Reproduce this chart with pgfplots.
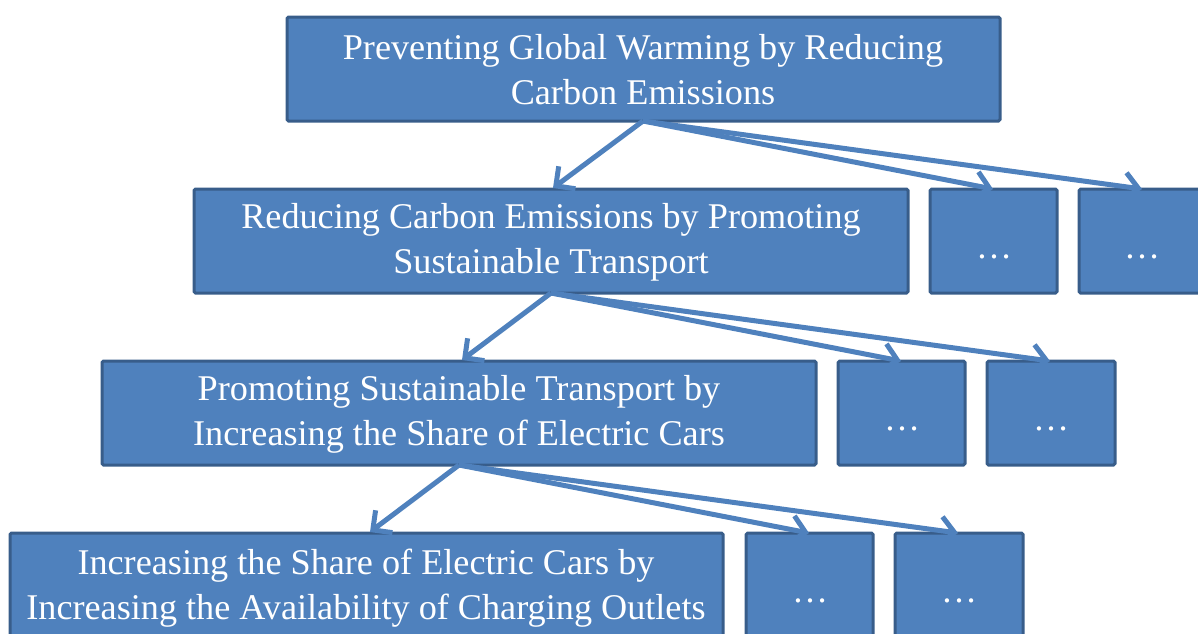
\documentclass[border=0pt]{standalone}
\usepackage{pgfplots}
\pgfplotsset{compat=1.18}
\usepackage{fontspec}
\setmainfont{Liberation Serif}
\usetikzlibrary{arrows.meta}
\definecolor{boxfill}{HTML}{4F81BD}
\definecolor{boxline}{HTML}{385D8A}
\begin{document}
\begin{tikzpicture}
\tikzset{bx/.style={line width=1.5pt, draw=boxline, fill=boxfill, rounded corners=0.8pt},
         lbl/.style={text=white, align=center, font=\fontsize{18.1}{22.5}\selectfont, inner sep=0pt},
         dots/.style={text=white, font=\fontsize{18}{22}\selectfont, inner sep=0pt, anchor=base},
         arr/.style={draw=boxfill, line width=2.5pt, -{Straight Barb[length=7pt,width=14pt,line width=2.5pt]}}}
\begin{axis}[
  width=599pt, height=316.5pt, scale only axis,
  xmin=0, xmax=1198, ymin=0, ymax=633, y dir=reverse,
  hide axis, clip=true,
]
\draw[bx] (axis cs:287,17) rectangle (axis cs:1000,121);
\draw[bx] (axis cs:194,189) rectangle (axis cs:908,293);
\draw[bx] (axis cs:930,189) rectangle (axis cs:1057,293);
\draw[bx] (axis cs:1079,189) rectangle (axis cs:1210,293);
\draw[bx] (axis cs:102,361) rectangle (axis cs:816,465);
\draw[bx] (axis cs:838,361) rectangle (axis cs:965,465);
\draw[bx] (axis cs:987,361) rectangle (axis cs:1115,465);
\draw[bx] (axis cs:10,533) rectangle (axis cs:723,650);
\draw[bx] (axis cs:746,533) rectangle (axis cs:873,650);
\draw[bx] (axis cs:895,533) rectangle (axis cs:1023,650);
\node[lbl] at (axis cs:643,70) {Preventing Global Warming by Reducing\\Carbon Emissions};
\node[lbl] at (axis cs:551,242) {Reducing Carbon Emissions by Promoting\\Sustainable Transport};
\node[lbl] at (axis cs:459,414) {Promoting Sustainable Transport by\\Increasing the Share of Electric Cars};
\node[lbl] at (axis cs:366,588) {Increasing the Share of Electric Cars by\\Increasing the Availability of Charging Outlets};
\node[dots] at (axis cs:994,258) {…};
\node[dots] at (axis cs:1142,258) {…};
\node[dots] at (axis cs:902,430) {…};
\node[dots] at (axis cs:1051,430) {…};
\node[dots] at (axis cs:810,602) {…};
\node[dots] at (axis cs:959,602) {…};
\draw[arr] (axis cs:643,121) -- (axis cs:553,188);
\draw[arr] (axis cs:643,121) -- (axis cs:993,189);
\draw[arr] (axis cs:643,121) -- (axis cs:1142,189);
\draw[arr] (axis cs:551,293) -- (axis cs:462,360);
\draw[arr] (axis cs:551,293) -- (axis cs:901,361);
\draw[arr] (axis cs:551,293) -- (axis cs:1050,361);
\draw[arr] (axis cs:459,465) -- (axis cs:370,532);
\draw[arr] (axis cs:459,465) -- (axis cs:809,533);
\draw[arr] (axis cs:459,465) -- (axis cs:958,533);
\end{axis}
\pgfresetboundingbox
\path (current axis.south west) rectangle (current axis.north east);
\end{tikzpicture}
\end{document}
